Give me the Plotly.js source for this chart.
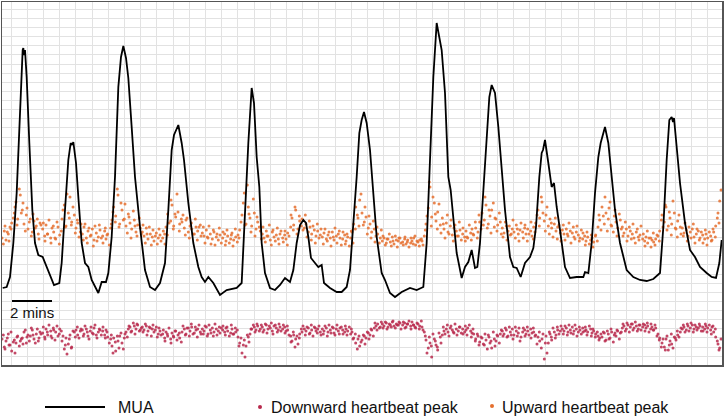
<!DOCTYPE html>
<html>
<head>
<meta charset="utf-8">
<script src="https://cdn.plot.ly/plotly-3.0.1.min.js"></script>
<style>html,body{margin:0;padding:0;background:#fff;}#chart{width:726px;height:419px;}</style>
</head>
<body>
<div id="chart"></div>
<script>
// ---- MUA trace (time in seconds, arbitrary amplitude units) ----
const muaTime = [2,14,24,34,44,52,59,62,64,66,69,74,82,91,99,109,122,134,144,156,172,179,189,199,206,210,214,222,229,239,249,259,269,279,289,299,312,319,329,339,349,357,364,372,379,389,399,414,429,444,459,474,489,499,509,516,522,529,539,546,559,574,589,599,609,619,634,654,674,704,719,729,739,749,756,764,772,779,789,804,819,834,849,864,874,884,894,904,912,919,927,939,949,959,966,984,1004,1019,1034,1044,1054,1064,1072,1079,1086,1094,1104,1114,1124,1139,1149,1164,1179,1199,1224,1244,1264,1274,1284,1294,1304,1311,1319,1329,1339,1346,1354,1364,1379,1389,1399,1409,1419,1426,1434,1444,1454,1462,1469,1479,1489,1499,1509,1524,1534,1544,1556,1569,1584,1594,1602,1612,1619,1623,1629,1639,1649,1656,1664,1674,1689,1704,1724,1744,1749,1759,1769,1779,1789,1796,1809,1819,1829,1839,1854,1874,1894,1914,1934,1954,1974,1984,1994,2002,2009,2013,2016,2024,2034,2049,2064,2079,2094,2114,2129,2142,2152,2159];
const muaValue = [77,78,88,122,172,238,308,315,317,310,315,288,222,155,122,110,108,98,88,80,82,102,155,205,222,220,223,202,168,122,102,98,85,78,72,83,83,92,128,188,278,308,319,307,287,238,188,138,95,78,75,82,102,155,215,230,235,240,222,205,162,122,98,88,83,88,82,70,75,77,82,155,222,277,262,208,178,122,92,77,75,80,87,83,95,122,140,145,142,128,107,102,98,100,82,77,73,73,78,95,138,188,232,245,253,242,215,172,128,92,85,72,68,73,77,75,78,122,205,288,342,328,315,272,188,175,148,112,87,98,103,115,97,98,122,172,228,268,280,272,238,195,155,108,98,97,88,102,108,117,138,188,212,215,225,202,178,182,158,135,98,87,88,88,93,92,122,172,208,222,238,222,185,155,122,95,88,85,84,86,92,138,205,245,248,243,247,215,182,142,115,108,98,92,88,87,102,125];

// ---- Heartbeat peaks, first set of beats (seconds) ----
const beatTimeA = [
0,7,12,19,24,29,37,42,47,55, 61,66,73,78,85,91,96,103,109,114,
122,128,132,137,146,150,155,161,168,173, 180,187,192,199,204,209,217,222,227,235,
241,246,253,258,265,271,276,283,289,294, 302,308,312,317,326,330,335,341,348,353,
360,367,372,379,384,389,397,402,407,415, 421,426,433,438,445,451,456,463,469,474,
482,488,492,497,506,510,515,521,528,533, 540,547,552,559,564,569,577,582,587,595,
601,606,613,618,625,631,636,643,649,654, 662,668,672,677,686,690,695,701,708,713,
720,727,732,739,744,749,757,762,767,775, 781,786,793,798,805,811,816,823,829,834,
842,848,852,857,866,870,875,881,888,893, 900,907,912,919,924,929,937,942,947,955,
961,966,973,978,985,991,996,1003,1009,1014, 1022,1028,1032,1037,1046,1050,1055,1061,1068,1073,
1080,1087,1092,1099,1104,1109,1117,1122,1127,1135, 1141,1146,1153,1158,1165,1171,1176,1183,1189,1194,
1202,1208,1212,1217,1226,1230,1235,1241,1248,1253, 1260,1267,1272,1279,1284,1289,1297,1302,1307,1315,
1321,1326,1333,1338,1345,1351,1356,1363,1369,1374, 1382,1388,1392,1397,1406,1410,1415,1421,1428,1433,
1440,1447,1452,1459,1464,1469,1477,1482,1487,1495, 1501,1506,1513,1518,1525,1531,1536,1543,1549,1554,
1562,1568,1572,1577,1586,1590,1595,1601,1608,1613, 1620,1627,1632,1639,1644,1649,1657,1662,1667,1675,
1681,1686,1693,1698,1705,1711,1716,1723,1729,1734, 1742,1748,1752,1757,1766,1770,1775,1781,1788,1793,
1800,1807,1812,1819,1824,1829,1837,1842,1847,1855, 1861,1866,1873,1878,1885,1891,1896,1903,1909,1914,
1922,1928,1932,1937,1946,1950,1955,1961,1968,1973, 1980,1987,1992,1999,2004,2009,2017,2022,2027,2035,
2041,2046,2053,2058,2065,2071,2076,2083,2089,2094, 2102,2108,2112,2117,2126,2130,2135,2141,2148,2153];

const upwardPeakA = [
127,134,125,131,138,142,152,163,146,170, 155,141,150,136,146,133,144,139,131,142,
136,129,140,131,127,137,133,126,138,130, 146,160,139,152,168,143,150,137,142,133,
131,138,127,134,129,136,125,132,128,135, 129,134,126,131,137,145,158,149,170,141,
155,146,139,151,142,136,145,133,140,137, 133,129,137,126,131,128,124,132,127,130,
127,131,138,151,144,160,139,148,153,141, 143,137,145,133,139,136,131,138,134,140,
132,129,135,127,131,126,133,128,125,130, 127,131,124,129,126,132,125,128,130,135,
150,172,141,158,147,139,152,136,143,134, 131,127,134,129,125,133,128,130,126,131,
127,130,126,132,138,147,140,155,136,144, 146,137,141,133,138,131,135,129,134,130,
128,132,126,130,127,133,125,129,131,127, 126,130,124,128,127,133,141,158,147,165,
152,143,148,137,141,133,136,129,131,127, 124,127,122,126,123,128,121,125,124,127,
123,126,121,125,122,124,127,120,123,125, 124,129,141,157,178,148,162,144,153,140,
147,136,142,133,139,130,137,134,129,135, 131,128,134,127,132,136,130,137,133,143,
152,145,160,141,149,155,138,146,140,143, 137,132,139,134,130,136,133,140,131,135,
133,137,131,136,134,129,138,142,155,147, 163,144,150,139,146,137,141,134,138,132,
135,131,136,129,134,132,128,133,130,127, 126,129,124,128,125,127,123,130,138,145,
158,141,152,146,163,139,149,143,137,145, 138,132,136,129,134,131,127,133,128,130,
126,124,128,122,127,125,123,126,129,134, 150,143,158,139,147,141,152,136,144,138,
137,132,135,129,133,136,128,131,134,127, 130,126,131,127,129,125,133,139,152,164];

const downwardPeakA = [
26,18,24,31,20,14,25,22,29,24, 27,33,22,30,29,35,26,31,24,33,
32,28,36,30,34,27,35,33,29,36, 24,16,27,21,30,18,33,35,30,34,
35,31,36,29,34,32,37,30,33,35, 34,30,35,28,26,19,27,14,24,29,
22,27,33,36,38,34,39,36,40,35, 38,35,39,34,37,36,33,38,31,34,
31,27,33,29,26,32,28,34,30,27, 33,36,31,37,34,38,32,35,36,33,
36,34,38,31,35,37,33,36,34,32, 35,33,37,34,32,36,31,33,28,22,
12,25,19,28,31,36,38,35,39,36, 38,35,40,36,37,34,39,37,35,38,
36,38,34,35,29,24,30,26,21,31, 33,36,34,37,32,35,38,34,36,33,
36,34,37,33,35,38,32,36,34,37, 35,33,36,34,31,33,27,22,26,19,
25,29,27,32,30,35,37,39,41,38, 41,39,42,38,40,43,39,41,40,42,
40,42,38,41,39,43,40,37,41,39, 38,33,25,17,22,8,26,20,15,28,
30,34,36,33,37,35,32,36,34,38, 36,33,35,37,34,32,31,26,29,23,
27,20,25,30,22,17,26,24,29,31, 34,31,35,29,33,36,30,34,32,24,
33,35,31,34,36,32,33,30,28,24, 26,6,29,22,31,25,33,30,35,34,
36,34,37,33,35,38,34,36,33,35, 37,34,35,33,36,32,34,31,29,27,
28,32,25,31,27,33,30,29,34,32, 37,39,36,40,38,41,37,39,36,40,
38,40,37,39,36,38,35,37,31,27, 22,18,26,15,24,21,28,25,30,33,
36,38,35,39,37,40,36,38,37,39, 38,36,39,37,35,38,33,28,21,17];

// ---- Heartbeat peaks, second set of beats (seconds) ----
const beatTimeB = [
4,9,16,21,27,34,39,45,52,58, 63,70,75,82,88,93,100,106,111,117,
124,129,136,141,147,154,159,165,172,178, 183,190,195,202,208,213,220,226,231,237,
244,249,256,261,267,274,279,285,292,298, 303,310,315,322,328,333,340,346,351,357,
364,369,376,381,387,394,399,405,412,418, 423,430,435,442,448,453,460,466,471,477,
484,489,496,501,507,514,519,525,532,538, 543,550,555,562,568,573,580,586,591,597,
604,609,616,621,627,634,639,645,652,658, 663,670,675,682,688,693,700,706,711,717,
724,729,736,741,747,754,759,765,772,778, 783,790,795,802,808,813,820,826,831,837,
844,849,856,861,867,874,879,885,892,898, 903,910,915,922,928,933,940,946,951,957,
964,969,976,981,987,994,999,1005,1012,1018, 1023,1030,1035,1042,1048,1053,1060,1066,1071,1077,
1084,1089,1096,1101,1107,1114,1119,1125,1132,1138, 1143,1150,1155,1162,1168,1173,1180,1186,1191,1197,
1204,1209,1216,1221,1227,1234,1239,1245,1252,1258, 1263,1270,1275,1282,1288,1293,1300,1306,1311,1317,
1324,1329,1336,1341,1347,1354,1359,1365,1372,1378, 1383,1390,1395,1402,1408,1413,1420,1426,1431,1437,
1444,1449,1456,1461,1467,1474,1479,1485,1492,1498, 1503,1510,1515,1522,1528,1533,1540,1546,1551,1557,
1564,1569,1576,1581,1587,1594,1599,1605,1612,1618, 1623,1630,1635,1642,1648,1653,1660,1666,1671,1677,
1684,1689,1696,1701,1707,1714,1719,1725,1732,1738, 1743,1750,1755,1762,1768,1773,1780,1786,1791,1797,
1804,1809,1816,1821,1827,1834,1839,1845,1852,1858, 1863,1870,1875,1882,1888,1893,1900,1906,1911,1917,
1924,1929,1936,1941,1947,1954,1959,1965,1972,1978, 1983,1990,1995,2002,2008,2013,2020,2026,2031,2037,
2044,2049,2056,2061,2067,2074,2079,2085,2092,2098, 2103,2110,2115,2122,2128,2133,2140,2146,2151,2157];

const upwardPeakB = [
121,139,133,124,136,147,158,140,176,152, 162,134,157,143,129,151,137,146,126,140,
142,124,131,145,122,139,127,143,121,134, 155,138,171,147,140,158,132,145,128,141,
125,141,122,137,130,119,139,124,140,127, 122,137,130,120,141,153,143,176,138,162,
145,161,132,148,127,154,139,129,147,131, 140,122,131,138,120,135,129,121,136,124,
134,121,130,142,165,136,151,171,134,146, 150,130,147,127,142,131,146,125,138,129,
138,122,128,139,121,135,120,131,137,122, 133,120,135,122,130,119,136,123,127,143,
162,140,180,151,133,166,129,148,138,126, 138,123,129,140,120,135,124,137,121,134,
123,134,120,129,150,135,158,131,149,139, 135,150,128,144,125,139,122,141,127,136,
121,136,124,133,119,128,137,122,134,120, 133,121,131,119,134,122,136,150,139,171,
140,158,131,149,127,144,123,138,122,135, 129,120,126,131,119,124,129,118,127,122,
120,128,123,118,127,121,129,124,119,126, 120,135,149,183,139,168,151,136,161,132,
141,127,150,131,145,124,140,129,143,125, 137,124,128,140,125,131,143,127,150,136,
140,168,137,155,132,162,147,134,152,131, 128,143,125,139,131,145,127,136,124,142,
127,140,124,131,143,126,133,150,139,168, 152,134,158,131,142,128,147,126,140,124,
140,125,131,142,122,138,126,139,124,135, 132,120,133,121,130,118,129,124,150,135,
149,168,134,157,140,133,155,129,151,136, 129,143,124,138,126,141,122,136,125,139,
131,119,134,127,118,132,120,130,124,145, 138,160,135,153,130,164,137,128,150,131,
129,142,124,138,127,141,122,136,125,133, 122,135,120,133,124,136,128,147,142,175];

const downwardPeakB = [
30,16,27,20,33,23,12,28,19,26, 21,35,28,24,37,30,22,36,27,31,
38,26,33,40,29,37,25,39,31,34, 29,20,11,26,17,34,28,38,27,36,
29,39,33,26,38,31,40,27,36,30, 38,27,33,22,30,12,23,29,17,32,
16,31,28,39,33,42,31,41,34,37, 33,41,30,38,29,40,35,28,37,30,
35,24,31,37,22,29,34,25,32,23, 39,30,37,29,41,31,38,28,40,31,
31,39,29,40,32,29,41,30,38,37, 39,30,38,29,40,31,37,35,19,27,
20,8,30,23,36,40,33,41,34,40, 33,41,32,39,42,31,40,33,41,34,
40,32,39,30,23,33,18,29,27,36, 39,30,38,31,40,29,37,32,39,30,
31,39,29,40,32,37,30,40,31,38, 31,39,30,38,36,26,31,16,29,23,
30,21,33,26,36,29,42,35,37,43, 37,43,36,41,38,44,37,40,43,36,
43,37,41,44,36,40,38,42,36,44, 35,29,12,28,19,31,24,18,32,22,
38,31,40,29,39,33,41,30,38,32, 31,39,30,40,28,36,24,31,20,28,
21,31,16,28,24,33,19,30,22,35, 29,37,28,38,30,26,38,29,37,28,
37,29,38,30,27,37,29,21,33,17, 31,22,12,33,28,37,27,38,31,39,
31,39,30,40,32,31,40,29,38,31, 33,38,30,39,29,36,28,33,25,31,
33,24,34,26,36,23,32,35,26,33, 41,34,42,33,41,35,43,34,40,35,
41,34,42,33,41,35,40,29,25,18, 26,15,29,20,31,17,27,34,28,37,
40,33,41,34,42,33,40,35,41,34, 34,41,33,40,31,39,36,24,15,26];

const legendLabels = ['MUA', 'Downward heartbeat peak', 'Upward heartbeat peak'];
const scaleBarLabel = '2 mins';
const scaleBarStart = 30, scaleBarEnd = 150, scaleBarLevel = 64;

const colMUA = '#000000', colDown = '#b8294c', colUp = '#e56f2e';

const beatTime = beatTimeA.concat(beatTimeB);
const upwardPeak = upwardPeakA.concat(upwardPeakB);
const downwardPeak = downwardPeakA.concat(downwardPeakB);

const traces = [
  {x: beatTime, y: upwardPeak, type: 'scatter', mode: 'markers', name: legendLabels[2],
   marker: {color: colUp, size: 3, opacity: 0.85}, showlegend: false},
  {x: beatTime, y: downwardPeak, type: 'scatter', mode: 'markers', name: legendLabels[1],
   marker: {color: colDown, size: 3, opacity: 0.85}, showlegend: false},
  {x: muaTime, y: muaValue, type: 'scatter', mode: 'lines', name: legendLabels[0],
   line: {color: colMUA, width: 1.8}, showlegend: false}
];

const L = 2, R = 4, T = 2, B = 54, W = 726, H = 419;
const pw = W - L - R, ph = H - T - B;
const px = v => (v - L) / pw;          // legend placement helpers (paper coords)
const py = v => (H - B - v) / ph;
const legY = py(407);

const layout = {
  width: W, height: H,
  margin: {l: L, r: R, t: T, b: B, pad: 0},
  paper_bgcolor: '#ffffff', plot_bgcolor: '#ffffff',
  font: {family: 'Liberation Sans, Arial, sans-serif', color: '#111'},
  xaxis: {range: [0, 2160], showticklabels: false, ticks: '', zeroline: false,
    showgrid: true, gridcolor: '#e2e2e2', gridwidth: 1, tick0: 27, dtick: 48.6,
    showline: true, mirror: true, linecolor: '#555', linewidth: 1.5, fixedrange: true},
  yaxis: {range: [0, 363], showticklabels: false, ticks: '', zeroline: false,
    showgrid: true, gridcolor: '#e2e2e2', gridwidth: 1, tick0: 8.76, dtick: 9.13,
    showline: true, mirror: true, linecolor: '#555', linewidth: 1.5, fixedrange: true},
  showlegend: false,
  shapes: [
    {type: 'line', xref: 'x', yref: 'y', x0: scaleBarStart, x1: scaleBarEnd, y0: scaleBarLevel, y1: scaleBarLevel,
     line: {color: '#000', width: 2}},
    {type: 'line', xref: 'paper', yref: 'paper', x0: px(45), x1: px(105), y0: legY, y1: legY,
     line: {color: colMUA, width: 1.8}},
    {type: 'circle', xref: 'paper', yref: 'paper', x0: px(258), x1: px(262), y0: py(405), y1: py(409),
     fillcolor: colDown, line: {width: 0}},
    {type: 'circle', xref: 'paper', yref: 'paper', x0: px(490), x1: px(494), y0: py(404), y1: py(408),
     fillcolor: colUp, line: {width: 0}}
  ],
  annotations: [
    {xref: 'x', yref: 'y', x: (scaleBarStart + scaleBarEnd) / 2, y: 53, text: scaleBarLabel, showarrow: false,
     xanchor: 'center', yanchor: 'middle', font: {size: 15, color: '#111'}},
    {xref: 'paper', yref: 'paper', x: px(116), y: legY, text: legendLabels[0], showarrow: false,
     xanchor: 'left', yanchor: 'middle', font: {size: 16, color: '#111'}},
    {xref: 'paper', yref: 'paper', x: px(269), y: legY, text: legendLabels[1], showarrow: false,
     xanchor: 'left', yanchor: 'middle', font: {size: 16, color: '#111'}},
    {xref: 'paper', yref: 'paper', x: px(500), y: legY, text: legendLabels[2], showarrow: false,
     xanchor: 'left', yanchor: 'middle', font: {size: 16, color: '#111'}}
  ]
};

Plotly.newPlot('chart', traces, layout, {displayModeBar: false, staticPlot: true});
</script>
</body>
</html>
